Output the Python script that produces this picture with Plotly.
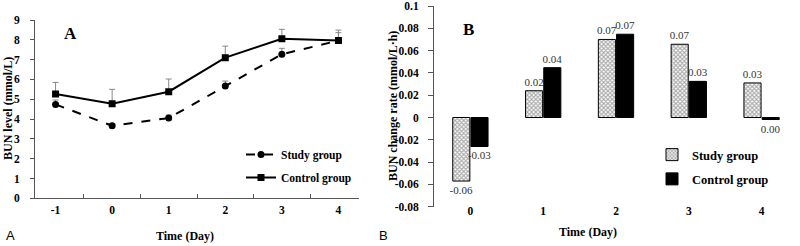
import plotly.graph_objects as go

W, H = 800, 246

# ---------------- data ----------------
days_a = ["-1", "0", "1", "2", "3", "4"]
study_level = [4.74, 3.66, 4.05, 5.67, 7.27, 7.96]
study_err = [0.22, 0.10, 0.15, 0.25, 0.30, 0.40]
control_level = [5.27, 4.77, 5.38, 7.10, 8.05, 7.97]
control_err = [0.58, 0.73, 0.64, 0.58, 0.48, 0.52]

days_b = ["0", "1", "2", "3", "4"]
study_rate = [-0.057, 0.024, 0.070, 0.0657, 0.031]
control_rate = [-0.026, 0.0447, 0.0747, 0.0324, -0.0018]
study_rate_text = ["-0.06", "0.02", "0.07", "0.07", "0.03"]
control_rate_text = ["-0.03", "0.04", "0.07", "0.03", "0.00"]

ya_ticks = [0, 1, 2, 3, 4, 5, 6, 7, 8, 9]
yb_ticks = [-0.08, -0.06, -0.04, -0.02, 0, 0.02, 0.04, 0.06, 0.08, 0.1]
yb_ticktext = ["-0.08", "-0.06", "-0.04", "-0.02", "0", "0.02", "0.04", "0.06", "0.08", "0.1"]

SERIF = "Liberation Serif"
SANS = "Liberation Sans"
AX = "#555555"


def px(x):
    return x / W


def py(y):
    return 1 - y / H


# plot areas (pixels)
A_L, A_R, A_T, A_B = 35, 359, 20, 198.3
B_L, B_R, B_T, B_B = 434, 798, 6, 206.7
YB_MIN, YB_MAX = -0.08, 0.1

fig = go.Figure()

# ---- panel A ----
fig.add_trace(go.Scatter(
    x=days_a, y=study_level, name="Study group", mode="lines+markers",
    line=dict(color="black", width=2, dash="dash"),
    marker=dict(symbol="circle", size=7, color="black"),
    error_y=dict(type="data", array=study_err, symmetric=False,
                 arrayminus=[0] * len(study_err), color="#888888", thickness=1, width=3),
    xaxis="x", yaxis="y", legend="legend", legendgroup="a1",
))
fig.add_trace(go.Scatter(
    x=days_a, y=control_level, name="Control group", mode="lines+markers",
    line=dict(color="black", width=2),
    marker=dict(symbol="square", size=7, color="black"),
    error_y=dict(type="data", array=control_err, symmetric=False,
                 arrayminus=[0] * len(control_err), color="#888888", thickness=1, width=3),
    xaxis="x", yaxis="y", legend="legend", legendgroup="a2",
))

# ---- panel B ----
fig.add_trace(go.Bar(
    x=days_b, y=study_rate, name="Study group", text=study_rate_text,
    textposition="outside", constraintext="none", cliponaxis=False,
    textfont=dict(family=SERIF, size=11, color="#333333"),
    marker=dict(color="white", line=dict(color="black", width=1),
                pattern=dict(shape="x", fgcolor="#555555", bgcolor="white", size=3, solidity=0.6)),
    xaxis="x2", yaxis="y2", legend="legend2", legendgroup="b1",
))
fig.add_trace(go.Bar(
    x=days_b, y=control_rate, name="Control group", text=control_rate_text,
    textposition="outside", constraintext="none", cliponaxis=False,
    textfont=dict(family=SERIF, size=11, color="#333333"),
    marker=dict(color="black", line=dict(color="black", width=1)),
    xaxis="x2", yaxis="y2", legend="legend2", legendgroup="b2",
))

zero_pos = py(B_B) + (0 - YB_MIN) / (YB_MAX - YB_MIN) * (py(B_T) - py(B_B))

tickfont = dict(family=SERIF, size=11.5, color="black", weight="bold")

fig.update_layout(
    width=W, height=H,
    margin=dict(l=0, r=0, t=0, b=0),
    paper_bgcolor="white", plot_bgcolor="white",
    barmode="group", bargap=0.5, bargroupgap=0.06,
    xaxis=dict(domain=[px(A_L), px(A_R)], type="category", tickson="boundaries",
               ticks="inside", ticklen=4, tickcolor=AX, showline=True, linecolor=AX,
               linewidth=1, showgrid=False, tickfont=tickfont, anchor="y",
               automargin=False, fixedrange=True, ticklabelstandoff=1),
    yaxis=dict(domain=[py(A_B), py(A_T)], range=[0, 9], tickvals=ya_ticks,
               ticks="outside", ticklen=4, tickcolor=AX, showline=True, linecolor=AX,
               linewidth=1, showgrid=False, zeroline=False, tickfont=tickfont,
               anchor="x", automargin=False, ticklabelstandoff=8,
               ticklabeloverflow="allow"),
    xaxis2=dict(domain=[px(B_L), px(B_R)], type="category", ticks="",
                showline=False, showgrid=False, tickfont=tickfont, anchor="y2",
                automargin=False, ticklabelstandoff=-4),
    yaxis2=dict(domain=[py(B_B), py(B_T)], range=[YB_MIN, YB_MAX], tickvals=yb_ticks,
                ticktext=yb_ticktext, ticks="outside", ticklen=5, tickcolor=AX,
                showline=True, linecolor=AX, linewidth=1, showgrid=False,
                zeroline=False, tickfont=tickfont, anchor="x2", automargin=False,
                ticklabelstandoff=7, ticklabeloverflow="allow"),
    xaxis3=dict(overlaying="x2", anchor="free", position=zero_pos, type="linear",
                range=[-0.5, 4.5], tickvals=[-0.5, 0.5, 1.5, 2.5, 3.5, 4.5],
                ticks="inside", ticklen=4, tickcolor=AX, showline=True, linecolor=AX,
                linewidth=1, showgrid=False, zeroline=False, showticklabels=False,
                automargin=False),
    legend=dict(x=px(241), y=py(140), xanchor="left", yanchor="top",
                font=dict(family=SERIF, size=11.5, color="black", weight="bold"),
                bgcolor="rgba(0,0,0,0)", tracegroupgap=4, itemwidth=30),
    legend2=dict(x=px(652), y=py(140), xanchor="left", yanchor="top",
                 font=dict(family=SERIF, size=12.5, color="black", weight="bold"),
                 bgcolor="rgba(0,0,0,0)", tracegroupgap=5, itemwidth=30),
    showlegend=True,
)


def note(text, x, y, size, family=SERIF, bold=True, angle=0):
    f = dict(family=family, size=size, color="black")
    if bold:
        f["weight"] = "bold"
    return dict(text=text, x=px(x), y=py(y), xref="paper", yref="paper",
                xanchor="center", yanchor="middle", textangle=angle,
                showarrow=False, font=f)


ann = [
    note("A", 70, 34, 17),
    note("B", 468, 29, 17),
    note("A", 10, 235, 13, family=SANS, bold=False),
    note("B", 383, 235, 13, family=SANS, bold=False),
    note("BUN level (mmol/L)", 8, 109, 12, angle=-90),
    note("Time (Day)", 185, 236, 12),
    note("BUN change rate (mmol/L·h)", 393, 106, 12, angle=-90),
    note("Time (Day)", 588, 232, 12),
]
fig.update_layout(annotations=ann)

fig.write_html("out.html", config={"displayModeBar": False},
               post_script="document.body.style.margin='0';")
